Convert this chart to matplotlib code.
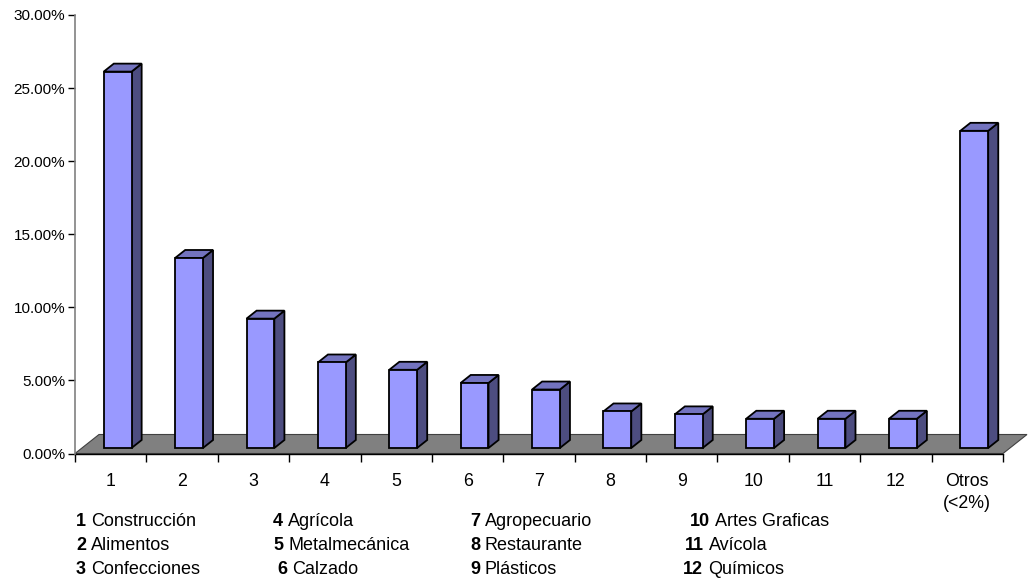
import matplotlib
matplotlib.use("Agg")
import matplotlib.pyplot as plt
from matplotlib.patches import Polygon

plt.rcParams["font.family"] = ["Liberation Sans", "DejaVu Sans"]

# Share of companies by sector (%)
categories = ["1", "2", "3", "4", "5", "6", "7", "8", "9", "10", "11", "12", "Otros\n(<2%)"]
shares = [25.75, 13.0, 8.85, 5.85, 5.35, 4.45, 4.0, 2.5, 2.3, 2.0, 2.0, 2.0, 21.7]
y_ticks = [0, 5, 10, 15, 20, 25, 30]
y_tick_labels = ["0.00%", "5.00%", "10.00%", "15.00%", "20.00%", "25.00%", "30.00%"]

# Sector key shown below the chart: (number, name)
legend_cols = [
    [("1", "Construcción"), ("2", "Alimentos"), ("3", "Confecciones")],
    [("4", "Agrícola"), ("5", "Metalmecánica"), ("6", "Calzado")],
    [("7", "Agropecuario"), ("8", "Restaurante"), ("9", "Plásticos")],
    [("10", "Artes Graficas"), ("11", "Avícola"), ("12", "Químicos")],
]

W, H = 1029, 583
fig = plt.figure(figsize=(W / 100, H / 100), dpi=100)
ax = fig.add_axes([75 / W, 129.5 / H, 928 / W, 438.5 / H])

n = len(categories)
ax.set_xlim(0, n)
ax.set_ylim(0, 30)

# 3-D look: floor depth and bar placement in data units
px_x = n / 928.0
px_y = 30 / 438.5
depth_dx, depth_dy = 24 * px_x, 19 * px_y
f_front, f_back = 0.29, 0.71
bar_w = 0.39

front_c = "#9999FF"
side_c = "#4D4D80"
top_c = "#7373BF"
floor_c = "#808080"

# Floor
floor = Polygon([(0, 0), (n, 0), (n + depth_dx, depth_dy), (depth_dx, depth_dy)],
                closed=True, facecolor=floor_c, edgecolor="#404040", lw=0.8,
                clip_on=False, zorder=1)
ax.add_patch(floor)

ox0, oy0 = f_front * depth_dx, f_front * depth_dy
ox1, oy1 = f_back * depth_dx, f_back * depth_dy
for i, v in enumerate(shares):
    x0 = i + 0.5 - bar_w / 2 + ox0
    x1 = x0 + bar_w
    b = oy0
    t = v + oy0
    ddx, ddy = ox1 - ox0, oy1 - oy0
    front = Polygon([(x0, b), (x1, b), (x1, t), (x0, t)], closed=True,
                    facecolor=front_c, edgecolor="black", lw=1.3, clip_on=False, zorder=3)
    side = Polygon([(x1, b), (x1 + ddx, b + ddy), (x1 + ddx, t + ddy), (x1, t)], closed=True,
                   facecolor=side_c, edgecolor="black", lw=1.3, clip_on=False, zorder=3)
    top = Polygon([(x0, t), (x1, t), (x1 + ddx, t + ddy), (x0 + ddx, t + ddy)], closed=True,
                  facecolor=top_c, edgecolor="black", lw=1.3, clip_on=False, zorder=3)
    for p in (side, top, front):
        ax.add_patch(p)

# Axes styling
for s in ("top", "right"):
    ax.spines[s].set_visible(False)
ax.spines["left"].set_color("#808080")
ax.spines["left"].set_linewidth(1.2)
ax.spines["bottom"].set_color("black")
ax.spines["bottom"].set_linewidth(1.0)
ax.spines["bottom"].set_zorder(2)

ax.set_yticks(y_ticks)
ax.set_yticklabels(y_tick_labels, fontsize=11)
ax.tick_params(axis="y", length=5, width=1, color="black", pad=2)

ax.set_xticks(range(n + 1))
ax.set_xticklabels([])
ax.tick_params(axis="x", which="major", length=6, width=1, color="black")
ax.set_xticks([i + 0.5 for i in range(n)], minor=True)
ax.set_xticklabels(categories, minor=True, fontsize=12.8, linespacing=1.4)
ax.tick_params(axis="x", which="minor", length=0, pad=14)
for lbl in ax.get_xticklabels(minor=True):
    lbl.set_verticalalignment("top")

# Sector key
col_x = [76, 273, 470, 690]
row_y = [521, 545, 569]
indent = {"6": 4, "11": -5, "12": -7}
for cx, col in zip(col_x, legend_cols):
    for ry, (num, name) in zip(row_y, col):
        x = cx + indent.get(num, 0)
        t = fig.text(x / W, 1 - ry / H, num, fontsize=13, fontweight="bold",
                     ha="left", va="center")
        fig.canvas.draw()
        bb = t.get_window_extent()
        fig.text((bb.x1 + 5) / W, 1 - ry / H, name, fontsize=13,
                 ha="left", va="center")

fig.savefig("out.png", dpi=100)
